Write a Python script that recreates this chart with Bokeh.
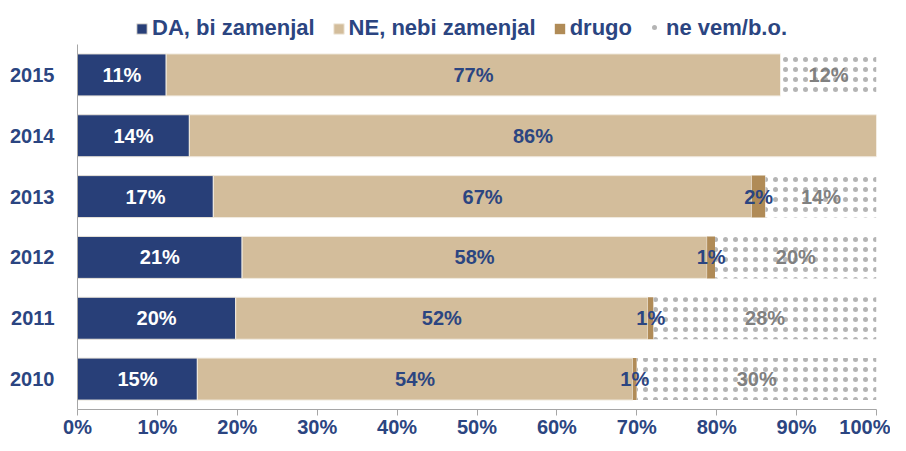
from bokeh.plotting import figure
from bokeh.layouts import column
from bokeh.models import FactorRange, Range1d, Legend, LegendItem, PrintfTickFormatter, FixedTicker
from bokeh.core.properties import value
from bokeh.embed import file_html
from bokeh.resources import INLINE

years = ["2010", "2011", "2012", "2013", "2014", "2015"]
da = [15.0, 19.8, 20.6, 17.0, 14.0, 11.1]
ne = [54.5, 51.6, 58.2, 67.4, 86.0, 76.9]
drugo = [0.5, 0.7, 1.0, 1.7, 0.0, 0.0]
nevem = [30.0, 27.9, 20.2, 13.9, 0.0, 12.0]

da_lbl = ["15%", "20%", "21%", "17%", "14%", "11%"]
ne_lbl = ["54%", "52%", "58%", "67%", "86%", "77%"]
drugo_lbl = ["1%", "1%", "1%", "2%", "", ""]
nevem_lbl = ["30%", "28%", "20%", "14%", "", "12%"]

series_names = ["DA, bi zamenjal", "NE, nebi zamenjal", "drugo", "ne vem/b.o."]
x_ticks = [0, 10, 20, 30, 40, 50, 60, 70, 80, 90, 100]

NAVY = "#283F78"
TXT = "#2B4581"
TAN = "#D3BD9B"
BROWN = "#B08B57"
GRAY = "#808080"
FONT = "Liberation Sans"

styles = [
    dict(fill_color=NAVY, line_color="#E9E4DA", line_width=1),
    dict(fill_color=TAN, line_color="#F1EBE0", line_width=1),
    dict(fill_color=BROWN, line_color=None),
    dict(fill_color="white", line_color=None, hatch_pattern="dot", hatch_color="#B4B4B4",
         hatch_scale=10, hatch_weight=0.5),
]

p = figure(width=890, height=407, y_range=FactorRange(factors=years),
           x_range=Range1d(0, 100), output_backend="svg", toolbar_location=None,
           min_border_left=77, min_border_right=14, min_border_top=0, min_border_bottom=42)
p.outline_line_color = None
p.xgrid.grid_line_color = None
p.ygrid.grid_line_color = None

# cumulative positions
l1 = [0.0] * 6
r1 = [a for a in da]
r2 = [a + b for a, b in zip(r1, ne)]
r3 = [a + b for a, b in zip(r2, drugo)]
r4 = [a + b for a, b in zip(r3, nevem)]

H = 0.69
p.hbar(y=years, left=l1, right=r1, height=H, **styles[0])
p.hbar(y=years, left=r1, right=r2, height=H, **styles[1])
p.hbar(y=years, left=r2, right=r3, height=H, **styles[2])
p.hbar(y=years, left=r3, right=r4, height=H, **styles[3])

def centers(a, b):
    return [(x + y) / 2 for x, y in zip(a, b)]

common = dict(text_align="center", text_baseline="middle", text_font=value(FONT),
              text_font_style="bold", text_font_size="20px")
p.text(x=centers(l1, r1), y=years, text=da_lbl, text_color="white", **common)
p.text(x=centers(r1, r2), y=years, text=ne_lbl, text_color=TXT, **common)
p.text(x=centers(r2, r3), y=years, text=drugo_lbl, text_color=TXT, **common)
p.text(x=centers(r3, r4), y=years, text=nevem_lbl, text_color=GRAY, **common)

# axes
p.xaxis.ticker = FixedTicker(ticks=x_ticks)
p.xaxis.formatter = PrintfTickFormatter(format="%d%%")
p.xaxis.major_tick_out = 6
p.xaxis.major_tick_in = 0
p.xaxis.minor_tick_line_color = None
p.xaxis.axis_line_color = "#A6A6A6"
p.xaxis.major_tick_line_color = "#A6A6A6"
p.xaxis.major_label_text_font = FONT
p.xaxis.major_label_text_font_style = "bold"
p.xaxis.major_label_text_font_size = "20px"
p.xaxis.major_label_text_color = TXT
p.xaxis.major_label_standoff = 0

p.yaxis.major_tick_line_color = None
p.yaxis.minor_tick_line_color = None
p.yaxis.axis_line_color = "#A6A6A6"
p.yaxis.major_label_text_font = FONT
p.yaxis.major_label_text_font_style = "bold"
p.yaxis.major_label_text_font_size = "20px"
p.yaxis.major_label_text_color = TXT
p.yaxis.major_label_standoff = 17

# legend strip above the chart (swatch renderers sit outside the visible range)
pl = figure(width=890, height=44, x_range=Range1d(0, 1), y_range=Range1d(0, 1),
            output_backend="svg", toolbar_location=None, min_border=0,
            x_axis_location=None, y_axis_location=None)
pl.grid.grid_line_color = None
pl.outline_line_color = None
lr = [pl.hbar(y=[-10], left=[0], right=[1], height=1, **st) for st in styles]

legend = Legend(items=[LegendItem(label=n, renderers=[r]) for n, r in zip(series_names, lr)],
                orientation="horizontal", location=(58, 3),
                label_text_font=FONT, label_text_font_style="bold",
                label_text_font_size="22px", label_text_color=TXT,
                glyph_width=13, glyph_height=13, label_standoff=4, spacing=17,
                padding=0, margin=0, border_line_color=None, background_fill_alpha=0)
pl.add_layout(legend)

layout = column(pl, p, spacing=0)
open("out.html", "w").write(file_html(layout, INLINE))
